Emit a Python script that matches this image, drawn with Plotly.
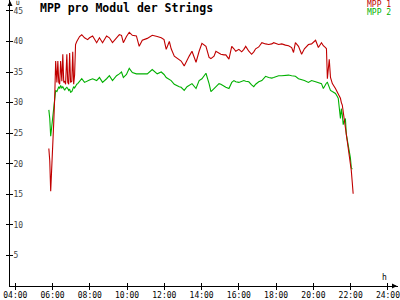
import plotly.graph_objects as go

times = ["05:48","05:51","05:54","05:58","06:01","06:04","06:07","06:10","06:14","06:17",
         "06:20","06:23","06:26","06:30","06:33","06:36","06:39","06:42","06:46","06:49",
         "06:52","06:55","06:58","07:02","07:05","07:08","07:11","07:14","07:18","07:21",
         "07:27","07:34","07:43","07:53","07:59","08:09","08:22","08:31","08:41","08:54",
         "09:03","09:13","09:26","09:35","09:42","09:48","09:58","10:07","10:17","10:30",
         "10:39","10:49","11:05","11:21","11:37","11:50","11:59","12:06","12:16","12:22",
         "12:32","12:38","12:48","12:54","13:04","13:13","13:20","13:29","13:42","13:52",
         "14:01","14:14","14:24","14:30","14:40","14:46","14:56","15:02","15:12","15:18",
         "15:28","15:37","15:44","15:50","16:00","16:09","16:16","16:22","16:32","16:41",
         "16:48","16:54","17:04","17:14","17:26","17:36","17:46","17:52","18:08","18:18",
         "18:30","18:40","18:50","18:56","19:02","19:12","19:22","19:31","19:44","19:54",
         "20:07","20:16","20:26","20:32","20:39","20:42","20:45","20:51","20:55","21:01",
         "21:11","21:17","21:20","21:27","21:30","21:33","21:36","21:39","21:43","21:46",
         "21:49","21:52","21:55","21:59","22:02","22:05","22:08"]

mpp1 = [22.5,20.5,15.5,19.4,24.0,27.0,31.0,36.8,33.3,36.8,
        33.3,33.0,36.8,33.5,37.9,33.3,33.5,33.0,37.9,33.3,
        33.0,38.1,33.3,33.5,38.3,33.0,34.5,39.5,40.0,40.3,
        40.8,41.1,40.6,40.3,40.6,40.9,39.8,40.6,39.8,40.9,
        40.6,39.8,40.6,41.1,41.0,39.8,40.8,41.5,41.0,40.9,
        39.2,40.2,40.5,41.0,40.8,40.6,40.3,38.7,40.0,38.8,
        37.6,37.4,37.1,36.8,36.0,37.0,37.6,38.4,36.6,38.4,
        39.7,39.2,37.4,37.2,37.6,38.4,38.0,37.9,37.8,37.8,
        37.1,39.2,38.8,38.4,38.7,38.3,38.7,39.2,38.4,37.9,
        38.3,38.8,39.1,39.8,39.6,39.5,39.6,39.8,39.5,39.6,
        39.4,39.3,39.0,38.2,39.8,39.2,37.9,38.8,39.5,39.6,
        40.2,39.0,39.8,39.3,39.0,38.8,33.9,37.1,34.1,33.1,
        32.3,31.7,31.3,30.7,30.0,29.6,28.5,27.4,25.8,25.0,
        24.2,23.0,22.1,20.5,18.9,17.0,15.1]

mpp2 = [28.8,27.4,24.5,26.4,28.0,29.9,31.2,32.0,31.8,32.3,
        32.6,32.3,32.8,32.4,32.6,32.3,32.0,32.3,32.5,32.3,
        32.0,32.2,31.7,31.8,32.2,32.6,32.4,32.8,33.0,33.1,
        33.5,33.9,33.3,33.6,33.7,33.9,33.6,34.1,33.3,33.9,
        34.4,33.6,34.4,34.7,35.0,34.1,34.6,35.6,34.9,34.7,
        34.7,34.8,34.7,35.4,34.7,35.0,34.6,34.1,33.8,33.6,
        33.0,32.8,32.6,32.5,32.0,32.6,32.8,33.1,32.3,33.6,
        33.9,34.8,33.1,31.8,32.3,32.6,33.1,33.0,32.6,32.5,
        32.3,33.3,33.6,33.4,33.3,33.5,33.6,33.5,33.4,32.9,
        32.6,33.0,33.4,33.6,34.3,34.1,34.0,34.1,34.4,34.4,
        34.5,34.5,34.4,34.3,34.3,33.9,33.8,33.6,33.3,33.6,
        33.4,33.3,33.1,32.3,33.1,33.2,33.3,32.5,32.0,31.8,
        31.5,31.0,30.7,27.4,29.0,28.0,26.4,27.0,27.4,24.8,
        24.0,23.2,22.0,21.0,19.4,19.1,None]

tick_hours = [4, 6, 8, 10, 12, 14, 16, 18, 20, 22, 24]
tick_text = ["04:00","06:00","08:00","10:00","12:00","14:00","16:00","18:00","20:00","22:00","24:00"]
y_ticks = [5, 10, 15, 20, 25, 30, 35, 40, 45]

hours = [int(t[:2]) + int(t[3:]) / 60 for t in times]

RED = "#c00000"
GREEN = "#00b000"
MONO = "DejaVu Sans Mono"

fig = go.Figure()
fig.add_trace(go.Scatter(x=hours, y=mpp2, mode="lines", line=dict(color=GREEN, width=1.1),
                         name="MPP 2", connectgaps=False))
fig.add_trace(go.Scatter(x=hours, y=mpp1, mode="lines", line=dict(color=RED, width=1.1),
                         name="MPP 1"))
fig.add_trace(go.Scatter(x=[None], y=[None], xaxis="x2", yaxis="y2", showlegend=False,
                         hoverinfo="skip"))

XR = [3.716, 24.54]
YR = [0, 46.78]

fig.update_layout(
    width=400, height=300,
    margin=dict(l=10, r=0, t=0, b=9, pad=0),
    paper_bgcolor="white", plot_bgcolor="white",
    showlegend=False,
    font=dict(family=MONO, size=8, color="black"),
    title=dict(text="<b>MPP pro Modul der Strings</b>", x=0.1, xanchor="left",
               y=0.975, yanchor="middle", font=dict(family=MONO, size=11.5, color="black")),
    xaxis=dict(range=XR, tickvals=tick_hours, ticktext=tick_text, showgrid=False,
               zeroline=False, showline=True, linecolor="black", linewidth=1,
               ticks="outside", ticklen=3, tickcolor="black", tickwidth=1,
               tickfont=dict(family=MONO, size=8), ticklabelstandoff=-2,
               ticklabeloverflow="allow"),
    xaxis2=dict(range=XR, overlaying="x", tickvals=tick_hours, showticklabels=False,
                showgrid=False, zeroline=False, ticks="inside", ticklen=3,
                tickcolor="black", tickwidth=1, side="bottom", anchor="y2"),
    yaxis=dict(range=YR, tickvals=y_ticks, showgrid=False, zeroline=False,
               showline=True, linecolor="black", linewidth=1,
               ticks="outside", ticklen=3, tickcolor="black", tickwidth=1,
               ticklabelposition="inside", ticklabelstandoff=2,
               ticklabeloverflow="allow", tickfont=dict(family=MONO, size=8)),
    yaxis2=dict(range=YR, overlaying="y", tickvals=y_ticks, showticklabels=False,
                showgrid=False, zeroline=False, ticks="inside", ticklen=3,
                tickcolor="black", tickwidth=1, side="left", anchor="x2"),
)

def px(xp):
    return (xp - 10) / 390

def py(yp):
    return (291 - yp) / 291

annots = [
    dict(text="MPP 1", x=px(395), y=py(4.5), font=dict(color=RED, size=8, family=MONO),
         xanchor="right", yanchor="middle"),
    dict(text="MPP 2", x=px(395), y=py(13), font=dict(color=GREEN, size=8, family=MONO),
         xanchor="right", yanchor="middle"),
    dict(text="U", x=px(14), y=py(3), font=dict(size=6, family=MONO),
         xanchor="left", yanchor="middle"),
    dict(text="h", x=px(386.5), y=py(282), font=dict(size=8, family=MONO),
         xanchor="center", yanchor="middle"),
]
for a in annots:
    fig.add_annotation(xref="paper", yref="paper", showarrow=False, **a)

# axis arrows
fig.add_annotation(xref="paper", yref="paper", x=px(399), y=0, ax=-6, ay=0,
                   axref="pixel", ayref="pixel", showarrow=True, arrowhead=2,
                   arrowsize=1, arrowwidth=1, arrowcolor="black", text="")
fig.add_annotation(xref="paper", yref="paper", x=0, y=py(0.5), ax=0, ay=6,
                   axref="pixel", ayref="pixel", showarrow=True, arrowhead=2,
                   arrowsize=1, arrowwidth=1, arrowcolor="black", text="")

fig.write_html("out.html")
